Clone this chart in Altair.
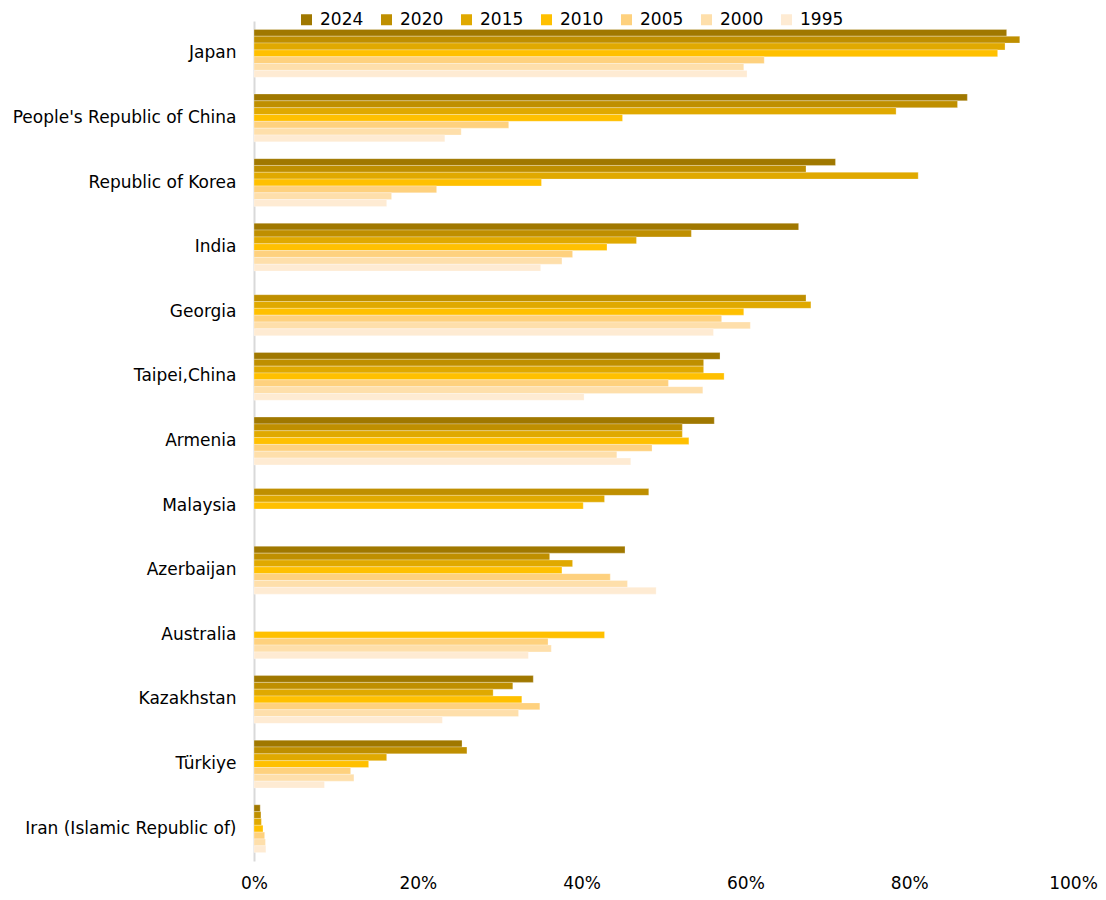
import altair as alt
import pandas as pd

countries = ["Japan", "People's Republic of China", "Republic of Korea", "India", "Georgia",
             "Taipei,China", "Armenia", "Malaysia", "Azerbaijan", "Australia", "Kazakhstan",
             "Türkiye", "Iran (Islamic Republic of)"]
years = ["2024", "2020", "2015", "2010", "2005", "2000", "1995"]
colors = ["#A07800", "#BF8F00", "#E0A900", "#FFC000", "#FED17E", "#FEDFAB", "#FEEBD3"]

v2024 = [91.9, 87.1, 71.0, 66.5, None, 56.9, 56.2, None, 45.3, None, 34.1, 25.4, 0.76]
v2020 = [93.5, 85.9, 67.4, 53.4, 67.4, 54.9, 52.3, 48.2, 36.1, None, 31.6, 26.0, 0.85]
v2015 = [91.7, 78.4, 81.1, 46.7, 68.0, 54.9, 52.3, 42.8, 38.9, None, 29.2, 16.2, 0.9]
v2010 = [90.8, 45.0, 35.1, 43.1, 59.8, 57.4, 53.1, 40.2, 37.6, 42.8, 32.7, 14.0, 1.1]
v2005 = [62.3, 31.1, 22.3, 38.9, 57.1, 50.6, 48.6, None, 43.5, 35.9, 34.9, 11.8, 1.3]
v2000 = [59.8, 25.3, 16.8, 37.6, 60.6, 54.8, 44.3, None, 45.6, 36.3, 32.3, 12.2, 1.4]
v1995 = [60.2, 23.3, 16.2, 35.0, 56.1, 40.3, 46.0, None, 49.1, 33.5, 23.0, 8.6, 1.45]

series = dict(zip(years, [v2024, v2020, v2015, v2010, v2005, v2000, v1995]))

rows = []
for y in years:
    for c, v in zip(countries, series[y]):
        if v is not None:
            rows.append({"country": c, "year": y, "value": v / 100.0})
df = pd.DataFrame(rows)

FONT = "DejaVu Sans"

chart = alt.Chart(df).mark_bar(
    stroke="#ffffff", strokeWidth=0.6, strokeOpacity=0.45
).encode(
    y=alt.Y("country:N", sort=countries,
            scale=alt.Scale(paddingInner=0.26, paddingOuter=0.13),
            axis=alt.Axis(title=None, ticks=False, domain=True, domainColor="#D9D9D9",
                          domainWidth=2, labelFontSize=17, labelFont=FONT,
                          labelColor="#000000", labelPadding=18, labelLimit=400, grid=False)),
    yOffset=alt.YOffset("year:N", sort=years, scale=alt.Scale(domain=years, paddingInner=0, paddingOuter=0)),
    x=alt.X("value:Q", scale=alt.Scale(domain=[0, 1], nice=False),
            axis=alt.Axis(title=None, format=".0%", values=[0, 0.2, 0.4, 0.6, 0.8, 1.0],
                          ticks=False, domain=False, grid=False, labelFontSize=17,
                          labelFont=FONT, labelColor="#000000", labelPadding=14,
                          labelFlush=False, labelBound=False, labelOverlap=False)),
    color=alt.Color("year:N", sort=years,
                    scale=alt.Scale(domain=years, range=colors),
                    legend=alt.Legend(title=None, orient="none", legendX=44, legendY=-10,
                                      direction="horizontal", columns=7,
                                      symbolType="square", symbolSize=121,
                                      symbolStrokeWidth=0, labelFontSize=17, labelFont=FONT,
                                      labelColor="#000000", labelOffset=5, columnPadding=14,
                                      padding=0)),
).properties(
    width=819, height=840,
    padding={"left": 246, "top": 13, "right": 25, "bottom": 31},
    autosize=alt.AutoSizeParams(type="none"),
).configure_view(stroke=None)

chart.save("out.html", embed_options={"renderer": "svg", "actions": False})
